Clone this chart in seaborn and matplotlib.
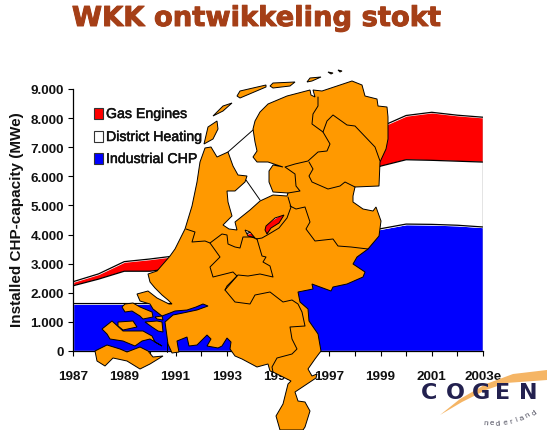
#!/usr/bin/env python3
import numpy as np
import seaborn as sns
import matplotlib
matplotlib.use("Agg")
import matplotlib.pyplot as plt
import matplotlib.patheffects as pe
from matplotlib.patches import PathPatch, Polygon, Rectangle
from matplotlib.path import Path

years = list(range(1987, 2004))
year_labels = ["1987", "", "1989", "", "1991", "", "1993", "", "1995", "", "1997", "", "1999", "", "2001", "", "2003e"]

industrial = [1630, 1630, 1630, 1630, 1630, 1680, 1900, 2300, 2800, 3300, 3650, 3950, 4200, 4360, 4350, 4320, 4260]
district = [610, 840, 1110, 1110, 1220, 1520, 1700, 1600, 1350, 1600, 1750, 1950, 2150, 2210, 2200, 2200, 2230]
gas = [140, 180, 330, 420, 420, 300, 200, 200, 500, 400, 600, 900, 1350, 1520, 1650, 1580, 1540]
series_names = ["Industrial CHP", "District Heating", "Gas Engines"]
y_ticks = [0, 1000, 2000, 3000, 4000, 5000, 6000, 7000, 8000, 9000]
y_labels = ["0", "1.000", "2.000", "3.000", "4.000", "5.000", "6.000", "7.000", "8.000", "9.000"]

# map of the Netherlands, traced in picture pixels
mainland = [
    (205, 149), (211, 148), (217, 158), (228, 153), (233, 167), (238, 176), (247, 177), (245, 183),
    (235, 192), (227, 192), (228, 203), (232, 217), (223, 226), (229, 230), (237, 231), (235, 223),
    (250, 211), (260, 202), (273, 196), (287, 197), (288, 194), (273, 193), (269, 183), (269, 172),
    (273, 166), (283, 168), (268, 163), (257, 163), (253, 158), (257, 152), (255, 143), (253, 130),
    (255, 122), (260, 113), (268, 105), (287, 97), (310, 91), (311, 96), (315, 98), (313, 91),
    (322, 92), (337, 87), (352, 82), (362, 86), (365, 97), (377, 100), (378, 107), (387, 108),
    (388, 118), (388, 125), (388, 140), (386, 150), (380, 163), (379, 187), (355, 188), (353, 197),
    (353, 203), (363, 210), (373, 212), (376, 208), (381, 222), (379, 237), (368, 250), (357, 258),
    (353, 265), (365, 273), (363, 278), (347, 285), (333, 288), (331, 292), (312, 285), (313, 290),
    (298, 293), (300, 303), (308, 310), (309, 322), (318, 335), (321, 352), (315, 360), (308, 370),
    (312, 377), (317, 375), (316, 379), (295, 393), (298, 402), (305, 403), (310, 412), (305, 428),
    (303, 431), (280, 431), (276, 417), (283, 405), (288, 385), (291, 382), (273, 373), (270, 372),
    (268, 365), (257, 368), (242, 360), (235, 357), (230, 350), (231, 343), (227, 339), (222, 347),
    (218, 349), (207, 347), (211, 340), (207, 336), (197, 346), (189, 347), (187, 338), (177, 342),
    (178, 348), (179, 353), (172, 354), (168, 345), (165, 323), (173, 316), (183, 314), (197, 311),
    (208, 307), (203, 305), (196, 308), (187, 311), (175, 312), (170, 314), (162, 317), (153, 310),
    (150, 305), (140, 302), (137, 295), (148, 292), (157, 299), (169, 305), (172, 305), (168, 301),
    (162, 296), (155, 289), (150, 283), (148, 275), (157, 272), (170, 257), (175, 250), (185, 230),
    (192, 207), (197, 183), (200, 163),
]
lakes = [
    [(245, 231), (250, 233), (255, 239), (248, 237)],
    [(266, 227), (275, 219), (284, 216), (279, 224), (271, 229), (267, 235), (265, 231)],
]
islands = [
    [(204, 145), (208, 128), (217, 122), (218, 130), (213, 140)],
    [(213, 117), (223, 107), (232, 104), (223, 112)],
    [(237, 97), (240, 92), (266, 86), (266, 88), (240, 99)],
    [(270, 87), (273, 84), (295, 83), (290, 87), (273, 89)],
    [(307, 83), (310, 79), (321, 78), (312, 82)],
    [(328, 73), (333, 74), (331, 75)],
    [(338, 71), (342, 72), (340, 73)],
    [(122, 308), (125, 305), (133, 304), (140, 308), (152, 313), (153, 318), (143, 320), (140, 317), (132, 312), (125, 313)],
    [(155, 318), (162, 317), (163, 321), (157, 320)],
    [(145, 323), (157, 322), (162, 323), (163, 333), (158, 332), (152, 328)],
    [(118, 323), (133, 322), (137, 328), (123, 331), (118, 327)],
    [(102, 330), (112, 322), (123, 332), (143, 332), (152, 337), (155, 343), (162, 347), (150, 340),
     (142, 342), (135, 347), (123, 342), (110, 340), (107, 335)],
    [(95, 352), (107, 346), (120, 350), (127, 353), (140, 348), (148, 352), (153, 358), (163, 357),
     (150, 365), (140, 370), (127, 362), (113, 359), (105, 367), (97, 362)],
]
borders = [
    [(228, 153), (253, 131)],
    [(246, 181), (260, 201)],
    [(318, 98), (318, 107), (313, 115), (312, 125), (323, 133), (330, 145), (327, 152), (318, 153),
     (308, 162), (295, 165), (285, 168), (295, 175), (296, 187), (300, 192), (288, 194)],
    [(323, 133), (327, 122), (333, 116), (347, 126), (355, 127), (375, 148), (380, 162)],
    [(309, 163), (313, 170), (309, 177), (312, 183), (328, 190), (340, 187), (345, 183), (355, 188)],
    [(288, 198), (291, 208), (287, 219), (279, 229), (269, 235), (262, 239), (256, 240)],
    [(290, 207), (296, 210), (305, 208), (310, 223), (306, 230), (315, 242), (333, 240), (338, 247), (351, 248), (368, 250)],
    [(257, 240), (262, 257), (266, 258), (263, 263), (270, 267), (273, 278), (260, 275), (248, 277),
     (238, 276), (227, 287), (225, 291), (235, 303), (250, 305), (255, 296), (270, 293), (283, 303),
     (292, 301), (298, 305), (302, 313), (305, 327), (290, 328), (292, 340), (297, 350), (292, 355),
     (277, 359), (272, 368), (273, 373)],
    [(186, 230), (195, 233), (192, 243), (205, 242), (210, 244), (222, 235), (227, 236), (228, 245),
     (235, 248), (240, 249), (243, 238), (252, 238), (257, 240)],
    [(210, 244), (220, 258), (210, 268), (213, 278), (233, 273), (237, 277), (225, 291)],
    [(167, 343), (167, 353)],
]

swoosh = [(440, 416), (460, 400), (486, 385), (513, 375), (547, 371), (547, 381), (506, 384), (486, 391), (462, 403)]
cogen_letters = list("COGEN")
cogen_x = [429, 455, 481, 503, 528]
nederland_letters = list("nederland")
nederland_x = [486, 492, 498, 505, 511, 517, 522, 528, 535]
nederland_y = [424, 424, 424, 423, 422, 420, 419, 416, 414]


def oriented(points, clockwise):
    pts = np.array(points, dtype=float)
    x, y = pts[:, 0], pts[:, 1]
    area = np.sum(x * np.roll(y, -1) - np.roll(x, -1) * y)
    if (area > 0) != clockwise:
        pts = pts[::-1]
    return pts


def ring(pts):
    verts = np.vstack([pts, pts[0]])
    codes = [Path.MOVETO] + [Path.LINETO] * (len(pts) - 1) + [Path.CLOSEPOLY]
    return Path(verts, codes)


def main():
    sns.set_style("white")
    plt.rcParams["font.family"] = ["Liberation Sans", "DejaVu Sans"]

    fig = plt.figure(figsize=(5.47, 4.31), dpi=100)
    ax = fig.add_axes([73 / 547, 1 - 352 / 431, 410 / 547, 262 / 431])

    colors = ["#0000ff", "#ffffff", "#ff0000"]
    ax.stackplot(years, industrial, district, gas, colors=colors, zorder=1)
    tops = np.cumsum([industrial, district, gas], axis=0)
    for top, name in zip(tops, series_names):
        sns.lineplot(x=years, y=top, ax=ax, color="black", linewidth=0.9, legend=False, zorder=2)
    ax.vlines(2003, 0, tops[-1][-1], color="#777777", linewidth=1, zorder=2)

    ax.set_xlim(1987, 2003)
    ax.set_ylim(0, 9000)
    ax.set_xticks(years)
    ax.set_xticklabels(year_labels, fontsize=9.7, fontweight="bold")
    ax.set_yticks(y_ticks)
    ax.set_yticklabels(y_labels, fontsize=9.7, fontweight="bold")
    ax.tick_params(axis="x", length=3.5, width=0.8, color="black", pad=10.5, bottom=True)
    ax.tick_params(axis="y", length=3.5, width=0.8, color="black", pad=3, left=True)
    for label in ax.get_xticklabels() + ax.get_yticklabels():
        label.set_color("#111111")
    sns.despine(ax=ax)
    for side in ["left", "bottom"]:
        ax.spines[side].set_color("black")
        ax.spines[side].set_linewidth(0.9)
        ax.spines[side].set_zorder(3)
    ax.patch.set_alpha(0)

    fig.text(17 / 547, 1 - 220 / 431, "Installed CHP-capacity (MWe)", rotation=90, ha="center", va="center",
             fontsize=11, fontweight="bold", color="#111111")
    fig.text(256 / 547, 1 - 20 / 431, "WKK ontwikkeling stokt", ha="center", va="center",
             fontsize=19.7, fontweight="bold", color="#a53f17", family="DejaVu Sans",
             path_effects=[pe.withStroke(linewidth=0.7, foreground="#a53f17")])

    # everything below lives in picture pixels, on top of the chart
    over = fig.add_axes([0, 0, 1, 1], zorder=5)
    over.set_xlim(0, 547)
    over.set_ylim(431, 0)
    over.axis("off")

    for name, y0, col in zip(series_names[::-1], [109, 132, 154], colors[::-1]):
        over.add_patch(Rectangle((94, y0), 8.5, 11, facecolor=col, edgecolor="#333333", linewidth=0.8, zorder=1))
        over.text(106, y0 + 6, name, fontsize=10.2, va="center", ha="left", color="#111111", zorder=1,
                  path_effects=[pe.withStroke(linewidth=0.35, foreground="#111111")])

    over.add_patch(Polygon(swoosh, closed=True, facecolor="#f5b565", edgecolor="none", zorder=2))
    for letter, lx in zip(cogen_letters, cogen_x):
        over.text(lx, 393.5, letter, fontsize=16, fontweight="bold", color="#23214f", ha="center", va="center",
                  family="DejaVu Sans", zorder=3)
    for letter, lx, ly, rot in zip(nederland_letters, nederland_x, nederland_y, np.linspace(-5, 35, 9)):
        over.text(lx, ly, letter, fontsize=5.5, color="#444455", rotation=rot, ha="center", va="center", zorder=3)

    outline = Path.make_compound_path(ring(oriented(mainland, True)), *[ring(oriented(l, False)) for l in lakes])
    over.add_patch(PathPatch(outline, facecolor="#ff9900", edgecolor="black", linewidth=0.7, zorder=6))
    for isl in islands:
        over.add_patch(Polygon(isl, closed=True, facecolor="#ff9900", edgecolor="black", linewidth=0.7, zorder=6))
    for line in borders:
        pts = np.array(line)
        over.plot(pts[:, 0], pts[:, 1], color="black", linewidth=0.7, zorder=7)

    fig.savefig("out.png", dpi=100)


if __name__ == "__main__":
    main()
